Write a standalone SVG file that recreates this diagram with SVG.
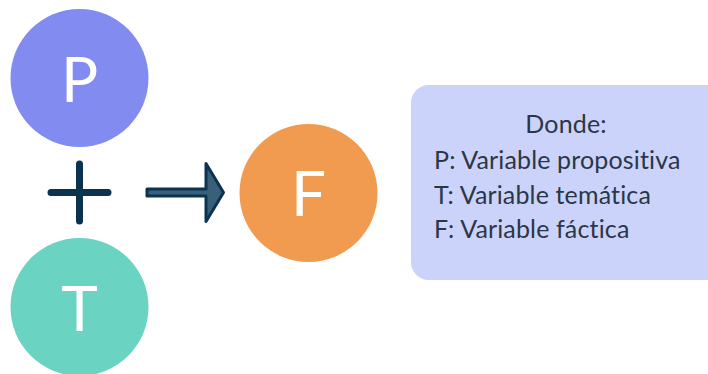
<svg xmlns="http://www.w3.org/2000/svg" width="708" height="374" viewBox="0 0 708 374">
  <style>
    .node-label { font-family: Lato, "Open Sans", sans-serif; font-size: 62px; fill: #ffffff; text-anchor: middle; }
    .legend { font-family: Lato, "Open Sans", sans-serif; font-size: 25px; letter-spacing: 0.15px; fill: #2b3646; }
    .op { fill: none; stroke: #0b3350; stroke-width: 7; stroke-linecap: round; }
  </style>
  <rect width="708" height="374" fill="#ffffff"/>

  <g id="node-p">
    <circle cx="79.5" cy="78" r="69" fill="#818bf0"/>
    <text class="node-label" x="79.5" y="102">P</text>
  </g>

  <g id="node-t">
    <circle cx="79.5" cy="307" r="69" fill="#6ad3c2"/>
    <text class="node-label" x="79.5" y="331">T</text>
  </g>

  <g id="node-f">
    <circle cx="308.5" cy="193" r="69" fill="#f09b50"/>
    <text class="node-label" x="308.5" y="216">F</text>
  </g>

  <g id="connectors">
    <!-- plus sign between P and T -->
    <path class="op" d="M51 192.5 H108 M79.5 164 V221"/>
    <!-- arrow towards F -->
    <path d="M147 189 H206 V163.5 L223.5 192.5 L206 221.5 V196 H147 Z" fill="#3a6079" stroke="#0b3350" stroke-width="3" stroke-linejoin="round"/>
  </g>

  <g id="legend-box">
    <rect x="411" y="85" width="318" height="195" rx="18" fill="#cbd3fa"/>
    <text class="legend" x="566" y="133" text-anchor="middle">Donde:</text>
    <text class="legend" x="434" y="169">P: Variable propositiva</text>
    <text class="legend" x="434" y="204">T: Variable temática</text>
    <text class="legend" x="434" y="238">F: Variable fáctica</text>
  </g>
</svg>
